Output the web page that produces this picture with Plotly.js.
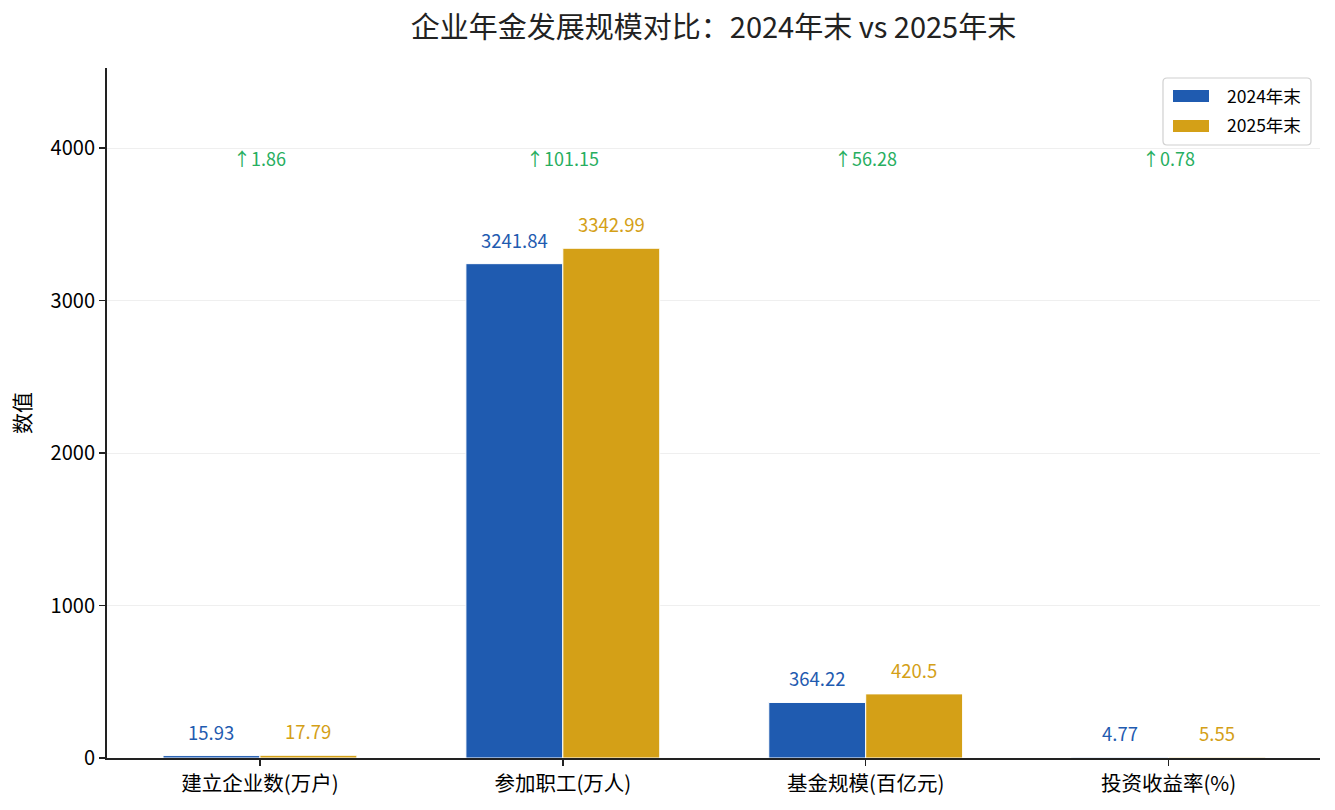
<!DOCTYPE html>
<html>
<head>
<meta charset="utf-8">
<script src="https://cdn.plot.ly/plotly-3.0.1.min.js"></script>
<style>
  html, body { margin: 0; padding: 0; background: #fff; }
  #chart { width: 1335px; height: 810px; }
</style>
</head>
<body>
<div id="chart"></div>
<script>
// chart data
var categories = ['建立企业数(万户)', '参加职工(万人)', '基金规模(百亿元)', '投资收益率(%)'];
var values2024 = [15.93, 3241.84, 364.22, 4.77];
var values2025 = [17.79, 3342.99, 420.5, 5.55];
var seriesNames = ['2024年末', '2025年末'];

var BLUE = '#1f5bb0';
var GOLD = '#d4a017';
var GREEN = '#27ae60';
var FONT = '"Noto Sans CJK SC", "Noto Sans", sans-serif';

// plot area in pixels, used to place the hand-drawn legend
var PL = 107, PR = 1320, PT = 68, PB = 758;
function px(x) { return (x - PL) / (PR - PL); }
function py(y) { return (PB - y) / (PB - PT); }

function fmt(v) {
    // two decimals, trailing zeros dropped like the reference
    return String(Math.round(v * 100) / 100);
}

var trace1 = {
    x: categories, y: values2024, type: 'bar', name: seriesNames[0],
    marker: {color: BLUE, line: {color: '#fff', width: 1}},
    hoverinfo: 'skip'
};
var trace2 = {
    x: categories, y: values2025, type: 'bar', name: seriesNames[1],
    marker: {color: GOLD, line: {color: '#fff', width: 1}},
    hoverinfo: 'skip'
};

var maxVal = Math.max.apply(null, values2024.concat(values2025));
var annotations = [];
for (var i = 0; i < categories.length; i++) {
    annotations.push({x: i - 0.16, y: values2024[i], xref: 'x', yref: 'y',
        text: fmt(values2024[i]), showarrow: false, yanchor: 'bottom', yshift: 9,
        font: {family: FONT, size: 18.5, color: BLUE}});
    annotations.push({x: i + 0.16, y: values2025[i], xref: 'x', yref: 'y',
        text: fmt(values2025[i]), showarrow: false, yanchor: 'bottom', yshift: 9,
        font: {family: FONT, size: 18.5, color: GOLD}});
    var diff = values2025[i] - values2024[i];
    annotations.push({x: i, y: maxVal * 1.177, xref: 'x', yref: 'y',
        text: (diff >= 0 ? '↑' : '↓') + fmt(Math.abs(diff)), showarrow: false, yanchor: 'middle',
        font: {family: FONT, size: 18, color: GREEN}});
}

// legend drawn as shapes so the patches are wide like the reference
var shapes = [];
var r = 4;
shapes.push({type: 'path', xref: 'paper', yref: 'paper',
    path: 'M ' + px(1163 + r) + ',' + py(78) + ' L ' + px(1311 - r) + ',' + py(78) +
          ' Q ' + px(1311) + ',' + py(78) + ' ' + px(1311) + ',' + py(78 + r) +
          ' L ' + px(1311) + ',' + py(145 - r) +
          ' Q ' + px(1311) + ',' + py(145) + ' ' + px(1311 - r) + ',' + py(145) +
          ' L ' + px(1163 + r) + ',' + py(145) +
          ' Q ' + px(1163) + ',' + py(145) + ' ' + px(1163) + ',' + py(145 - r) +
          ' L ' + px(1163) + ',' + py(78 + r) +
          ' Q ' + px(1163) + ',' + py(78) + ' ' + px(1163 + r) + ',' + py(78) + ' Z',
    fillcolor: 'rgba(255,255,255,0.85)', line: {color: '#d0d0d0', width: 1.2}});
var legendColors = [BLUE, GOLD];
var legendRows = [96, 126];
for (var k = 0; k < seriesNames.length; k++) {
    shapes.push({type: 'rect', xref: 'paper', yref: 'paper',
        x0: px(1173), x1: px(1209), y0: py(legendRows[k] + 6), y1: py(legendRows[k] - 6),
        fillcolor: legendColors[k], line: {width: 0}});
    annotations.push({xref: 'paper', yref: 'paper', x: px(1225), y: py(legendRows[k] - 1),
        xanchor: 'left', yanchor: 'middle', showarrow: false, text: seriesNames[k],
        font: {family: FONT, size: 17.5, color: '#000'}});
}

var layout = {
    width: 1335, height: 810,
    margin: {l: 107, r: 15, t: 68, b: 52, pad: 0},
    paper_bgcolor: '#fff', plot_bgcolor: '#fff',
    font: {family: FONT, color: '#000'},
    title: {text: '企业年金发展规模对比：2024年末 vs 2025年末', xref: 'paper',
        font: {family: FONT, size: 29, color: '#222'}, x: 0.5, xanchor: 'center', y: 0.966, yanchor: 'middle'},
    barmode: 'group', bargap: 0.36, bargroupgap: 0,
    xaxis: {type: 'category', range: [-0.505, 3.5], showline: true, linecolor: '#222', linewidth: 2,
        ticks: 'outside', ticklen: 6, tickwidth: 1.5, tickcolor: '#222', showgrid: false, zeroline: false,
        tickfont: {family: FONT, size: 20.5, color: '#000'}},
    yaxis: {range: [0, 4525], dtick: 1000, showline: true, linecolor: '#222', linewidth: 2,
        ticks: 'outside', ticklen: 6, tickwidth: 1.5, tickcolor: '#222',
        showgrid: true, gridcolor: '#ebebeb', gridwidth: 0.8, zeroline: false,
        tickfont: {family: FONT, size: 20, color: '#000'},
        title: {text: '数值', font: {family: FONT, size: 21, color: '#000'}, standoff: 14}},
    annotations: annotations,
    shapes: shapes,
    showlegend: false
};

Plotly.newPlot('chart', [trace1, trace2], layout, {displayModeBar: false, staticPlot: true});
</script>
</body>
</html>
